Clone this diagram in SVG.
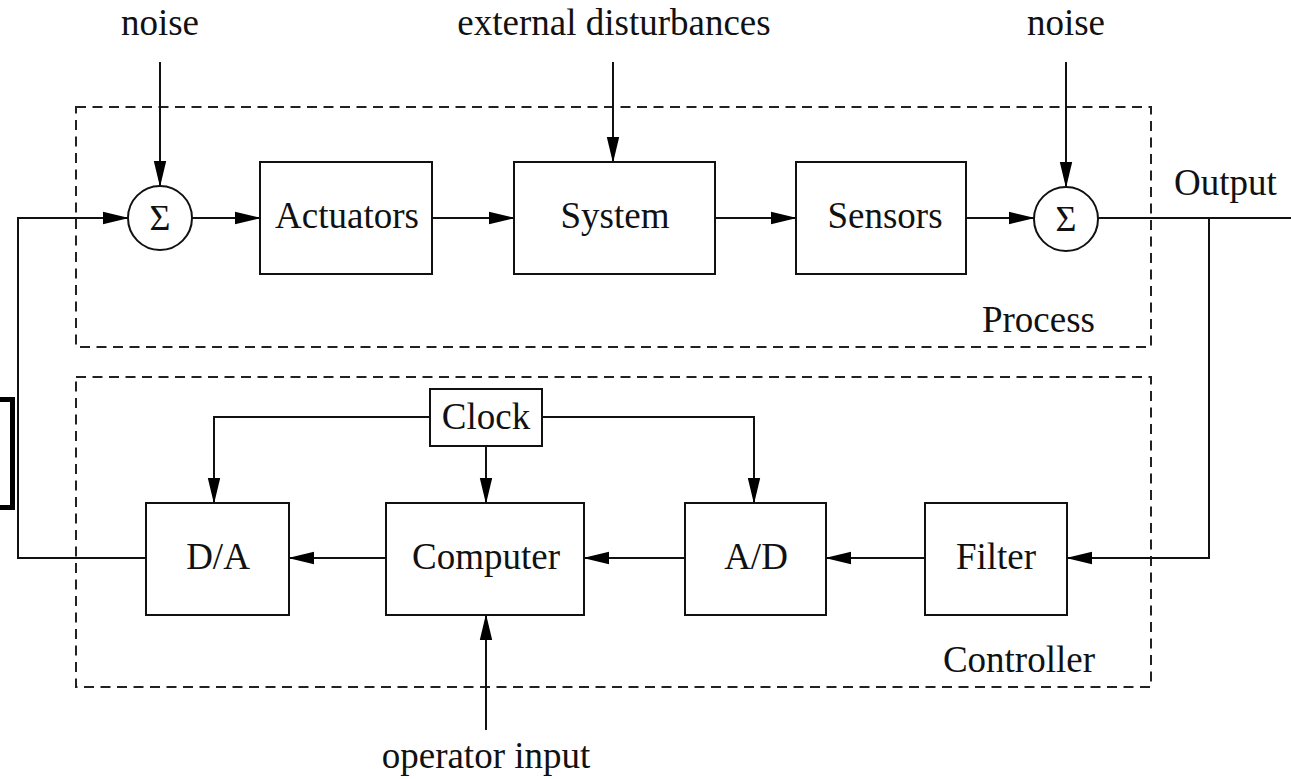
<svg xmlns="http://www.w3.org/2000/svg" width="1291" height="779" viewBox="0 0 1291 779">
<style>
.box{fill:#fff;stroke:#111;stroke-width:2}
.dash{fill:none;stroke:#222;stroke-width:2;stroke-dasharray:10 6.5}
.w{fill:none;stroke:#111;stroke-width:2}
.a{fill:none;stroke:#111;stroke-width:2;marker-end:url(#ah)}
text{font-family:"Liberation Serif","Times New Roman",serif;font-size:37px;fill:#111}
.c{text-anchor:middle}
.sig{font-size:36px}
</style>
<defs>
<marker id="ah" markerUnits="userSpaceOnUse" markerWidth="26" markerHeight="14" refX="25" refY="7" orient="auto">
<path d="M0,0.8 L26,7 L0,13.2 Z" fill="#000"/>
</marker>
</defs>
<rect width="1291" height="779" fill="#fff"/>
<g id="process-frame">
<rect class="dash" x="76" y="107" width="1075" height="240"/>
<text x="1095" y="332" text-anchor="end">Process</text>
</g>
<g id="controller-frame">
<rect class="dash" x="76" y="377" width="1075" height="310"/>
<text x="1095" y="672" text-anchor="end">Controller</text>
</g>
<g id="connectors">
<path class="a" d="M160,62 V186"/>
<path class="a" d="M613,62 V162"/>
<path class="a" d="M1066,62 V187"/>
<path class="a" d="M146,558 H18 V218 H128"/>
<path class="a" d="M192,218 H260"/>
<path class="a" d="M432,218 H514"/>
<path class="a" d="M715,218 H796"/>
<path class="a" d="M966,218 H1034"/>
<path class="w" d="M1098,218 H1291"/>
<path class="a" d="M1209,218 V558 H1067"/>
<path class="a" d="M925,558 H826"/>
<path class="a" d="M685,558 H584"/>
<path class="a" d="M386,558 H289"/>
<path class="a" d="M430,417 H214 V503"/>
<path class="a" d="M542,417 H754 V503"/>
<path class="a" d="M486,446 V503"/>
<path class="a" d="M486,730 V615"/>
</g>
<g id="sum1">
<circle class="box" cx="160" cy="218" r="32"/>
<text class="c sig" x="160" y="230">Σ</text>
</g>
<g id="sum2">
<circle class="box" cx="1066" cy="219" r="32"/>
<text class="c sig" x="1066" y="231">Σ</text>
</g>
<g id="actuators">
<rect class="box" x="260" y="162" width="172" height="112"/>
<text class="c" x="347" y="228">Actuators</text>
</g>
<g id="system">
<rect class="box" x="514" y="162" width="201" height="112"/>
<text class="c" x="615" y="228">System</text>
</g>
<g id="sensors">
<rect class="box" x="796" y="162" width="170" height="112"/>
<text class="c" x="885" y="228">Sensors</text>
</g>
<g id="clock">
<rect class="box" x="430" y="389" width="112" height="57"/>
<text class="c" x="486" y="429">Clock</text>
</g>
<g id="da">
<rect class="box" x="146" y="503" width="143" height="112"/>
<text class="c" x="218" y="569">D/A</text>
</g>
<g id="computer">
<rect class="box" x="386" y="503" width="198" height="112"/>
<text class="c" x="486" y="569">Computer</text>
</g>
<g id="ad">
<rect class="box" x="685" y="503" width="141" height="112"/>
<text class="c" x="756" y="569">A/D</text>
</g>
<g id="filter">
<rect class="box" x="925" y="503" width="142" height="112"/>
<text class="c" x="996" y="569">Filter</text>
</g>
<g id="labels">
<text class="c" x="160" y="35">noise</text>
<text class="c" x="614" y="35">external disturbances</text>
<text class="c" x="1066" y="35">noise</text>
<text x="1174" y="195">Output</text>
<text class="c" x="486" y="768">operator input</text>
</g>
<g id="edge-bracket">
<path d="M0,399.5 H12.5 V507.5 H0" fill="none" stroke="#000" stroke-width="5"/>
</g>
</svg>
